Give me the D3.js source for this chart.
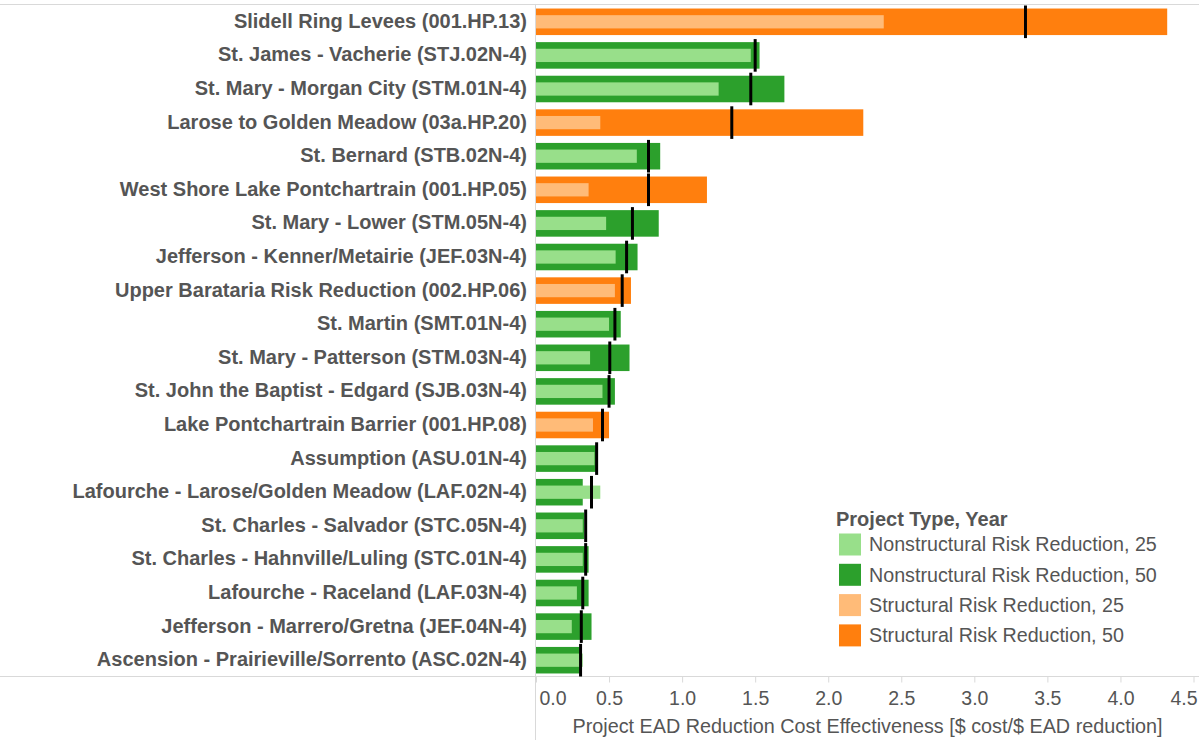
<!DOCTYPE html>
<html>
<head>
<meta charset="utf-8">
<script src="https://cdn.jsdelivr.net/npm/d3@7"></script>
<style>
  body { margin: 0; background: #fff; }
  text { font-family: "Liberation Sans", Arial, sans-serif; fill: #555; }
</style>
</head>
<body>
<svg id="chart"></svg>
<script>
// project names, top to bottom
let projects = [
  "Slidell Ring Levees (001.HP.13)",
  "St. James - Vacherie (STJ.02N-4)",
  "St. Mary - Morgan City (STM.01N-4)",
  "Larose to Golden Meadow (03a.HP.20)",
  "St. Bernard (STB.02N-4)",
  "West Shore Lake Pontchartrain (001.HP.05)",
  "St. Mary - Lower (STM.05N-4)",
  "Jefferson - Kenner/Metairie (JEF.03N-4)",
  "Upper Barataria Risk Reduction (002.HP.06)",
  "St. Martin (SMT.01N-4)",
  "St. Mary - Patterson (STM.03N-4)",
  "St. John the Baptist - Edgard (SJB.03N-4)",
  "Lake Pontchartrain Barrier (001.HP.08)",
  "Assumption (ASU.01N-4)",
  "Lafourche - Larose/Golden Meadow (LAF.02N-4)",
  "St. Charles - Salvador (STC.05N-4)",
  "St. Charles - Hahnville/Luling (STC.01N-4)",
  "Lafourche - Raceland (LAF.03N-4)",
  "Jefferson - Marrero/Gretna (JEF.04N-4)",
  "Ascension - Prairieville/Sorrento (ASC.02N-4)"
];
// S = structural, N = nonstructural
let types = ["S", "N", "N", "S", "N", "S", "N", "N", "S", "N",
             "N", "N", "S", "N", "N", "N", "N", "N", "N", "N"];
let year25 = [2.38, 1.47, 1.25, 0.44, 0.69, 0.36, 0.48, 0.545, 0.54, 0.50,
              0.37, 0.455, 0.39, 0.40, 0.44, 0.32, 0.32, 0.28, 0.245, 0.32];
let year50 = [4.32, 1.53, 1.70, 2.24, 0.85, 1.17, 0.84, 0.695, 0.65, 0.58,
              0.64, 0.54, 0.50, 0.41, 0.32, 0.33, 0.36, 0.36, 0.38, 0.30];
let marker = [3.35, 1.50, 1.47, 1.34, 0.77, 0.77, 0.66, 0.62, 0.59, 0.54,
              0.505, 0.50, 0.455, 0.415, 0.38, 0.34, 0.34, 0.32, 0.31, 0.305];
let xTicks = [0, 0.5, 1, 1.5, 2, 2.5, 3, 3.5, 4, 4.5];
let legendItems = [
  "Nonstructural Risk Reduction, 25",
  "Nonstructural Risk Reduction, 50",
  "Structural Risk Reduction, 25",
  "Structural Risk Reduction, 50"
];

let width = 1199;
let height = 740;
let colors = {
  N25: "#98df8a", N50: "#2ca02c",
  S25: "#ffbb78", S50: "#ff7f0e"
};
let gridColor = "#d9d9d9";

let svg = d3.select("#chart")
  .attr("width", width)
  .attr("height", height)
  .attr("viewBox", `0 0 ${width} ${height}`);

let data = projects.map(function (p, i) {
  return { name: p, type: types[i], v25: year25[i], v50: year50[i], m: marker[i] };
});

let x = d3.scaleLinear().domain([0, 4.5]).range([536, 1193.5]);
let y = d3.scaleBand().domain(projects).range([5, 677]).paddingInner(0.21).paddingOuter(0.105);
let step = y.step();

// frame lines
svg.append("line").attr("x1", 0).attr("x2", width).attr("y1", 4.5).attr("y2", 4.5)
  .attr("stroke", gridColor);
svg.append("line").attr("x1", 0).attr("x2", width).attr("y1", 676.5).attr("y2", 676.5)
  .attr("stroke", gridColor);
svg.append("line").attr("x1", 535.5).attr("x2", 535.5).attr("y1", 4).attr("y2", height)
  .attr("stroke", gridColor);

// year 50 bars
svg.append("g")
  .selectAll("rect")
  .data(data)
  .enter()
  .append("rect")
  .attr("x", x(0))
  .attr("y", function (d) { return y(d.name); })
  .attr("width", function (d) { return x(d.v50) - x(0); })
  .attr("height", y.bandwidth())
  .attr("fill", function (d) { return colors[d.type + "50"]; });

// year 25 bars (thinner, on top)
svg.append("g")
  .selectAll("rect")
  .data(data)
  .enter()
  .append("rect")
  .attr("x", x(0))
  .attr("y", function (d) { return y(d.name) + y.bandwidth() / 4; })
  .attr("width", function (d) { return x(d.v25) - x(0); })
  .attr("height", y.bandwidth() / 2)
  .attr("fill", function (d) { return colors[d.type + "25"]; });

// black reference marks
svg.append("g")
  .selectAll("line")
  .data(data)
  .enter()
  .append("line")
  .attr("x1", function (d) { return x(d.m); })
  .attr("x2", function (d) { return x(d.m); })
  .attr("y1", function (d) { return y(d.name) + y.bandwidth() / 2 - step / 2 + 0.5; })
  .attr("y2", function (d) { return y(d.name) + y.bandwidth() / 2 + step / 2 - 0.5; })
  .attr("stroke", "#000")
  .attr("stroke-width", 3);

// project labels
svg.append("g")
  .selectAll("text")
  .data(data)
  .enter()
  .append("text")
  .attr("x", 527)
  .attr("y", function (d) { return y(d.name) + y.bandwidth() / 2 - 1; })
  .attr("dy", "0.35em")
  .attr("text-anchor", "end")
  .style("font-size", "20px")
  .style("font-weight", "bold")
  .text(function (d) { return d.name; });

// x axis
let xAxis = svg.append("g")
  .attr("transform", "translate(0,676.5)")
  .call(d3.axisBottom(x).tickValues(xTicks).tickSize(6).tickFormat(d3.format(".1f")));
xAxis.select(".domain").remove();
xAxis.selectAll("line").attr("stroke", gridColor);
xAxis.selectAll("text")
  .attr("y", 28)
  .attr("dy", 0)
  .style("font-size", "19.5px")
  .style("font-family", '"Liberation Sans", Arial, sans-serif')
  .attr("fill", "#555")
  .attr("text-anchor", function (d) { return d === 0 ? "start" : d === 4.5 ? "end" : "middle"; })
  .attr("x", function (d) { return d === 0 ? 3 : d === 4.5 ? 3.5 : 0; });

svg.append("text")
  .attr("x", 867.5)
  .attr("y", 733)
  .attr("text-anchor", "middle")
  .style("font-size", "19.8px")
  .text("Project EAD Reduction Cost Effectiveness [$ cost/$ EAD reduction]");

// legend
let legend = svg.append("g").attr("transform", "translate(836,0)");
legend.append("text")
  .attr("x", 0)
  .attr("y", 526)
  .style("font-size", "20px")
  .style("font-weight", "bold")
  .text("Project Type, Year");

let legendColors = [colors.N25, colors.N50, colors.S25, colors.S50];
let ly = d3.scaleLinear().domain([0, 1]).range([533.5, 563.8]);

legend.selectAll("rect.sw")
  .data(legendItems)
  .enter()
  .append("rect")
  .attr("class", "sw")
  .attr("x", 3)
  .attr("y", function (d, i) { return ly(i); })
  .attr("width", 22)
  .attr("height", 22)
  .attr("fill", function (d, i) { return legendColors[i]; });

legend.selectAll("text.lb")
  .data(legendItems)
  .enter()
  .append("text")
  .attr("class", "lb")
  .attr("x", 33)
  .attr("y", function (d, i) { return ly(i) + 11; })
  .attr("dy", "0.35em")
  .style("font-size", "19.7px")
  .text(function (d) { return d; });
</script>
</body>
</html>
